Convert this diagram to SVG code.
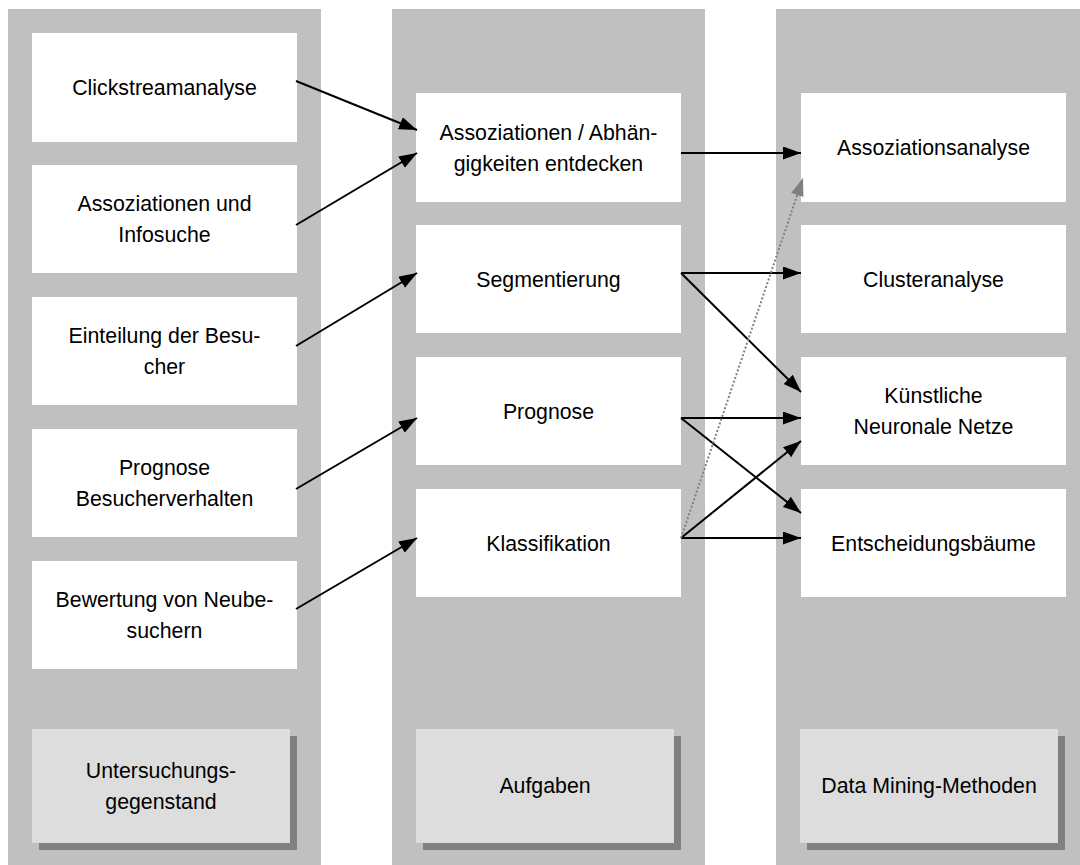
<svg xmlns="http://www.w3.org/2000/svg" width="1080" height="865" viewBox="0 0 1080 865">
<defs>
<style>
.col{fill:#c0c0c0}
.box{fill:#ffffff}
.lbl{fill:#dddddd}
.shd{fill:#808080}
text{font-family:"Liberation Sans",Arial,sans-serif;font-size:21.3px;fill:#000;text-anchor:middle}
.ar{stroke:#000;stroke-width:2;fill:none;marker-end:url(#ah)}
.dt{stroke:#808080;stroke-width:2;stroke-dasharray:2,2;fill:none;marker-end:url(#ahg)}
</style>
<marker id="ah" markerUnits="userSpaceOnUse" markerWidth="20" markerHeight="14" refX="18" refY="6.5" orient="auto"><path d="M0,0 L18,6.5 L0,13 z" fill="#000"/></marker>
<marker id="ahg" markerUnits="userSpaceOnUse" markerWidth="20" markerHeight="14" refX="18" refY="6.5" orient="auto"><path d="M0,0 L18,6.5 L0,13 z" fill="#808080"/></marker>
</defs>
<g id="columns">
<rect class="col" x="8" y="9" width="313" height="856"/>
<rect class="col" x="392" y="9" width="313" height="856"/>
<rect class="col" x="776" y="9" width="304" height="856"/>
</g>
<g id="n-clickstream"><rect class="box" x="32" y="33" width="265" height="109"/><text x="164.5" y="95">Clickstreamanalyse</text></g>
<g id="n-assoz-info"><rect class="box" x="32" y="165" width="265" height="108"/><text x="164.5" y="211">Assoziationen und</text><text x="164.5" y="242">Infosuche</text></g>
<g id="n-einteilung"><rect class="box" x="32" y="297" width="265" height="108"/><text x="164.5" y="343">Einteilung der Besu-</text><text x="164.5" y="374">cher</text></g>
<g id="n-prognose-bes"><rect class="box" x="32" y="429" width="265" height="108"/><text x="164.5" y="475">Prognose</text><text x="164.5" y="506">Besucherverhalten</text></g>
<g id="n-bewertung"><rect class="box" x="32" y="561" width="265" height="108"/><text x="164.5" y="607">Bewertung von Neube-</text><text x="164.5" y="638">suchern</text></g>
<g id="n-assoz-abh"><rect class="box" x="416" y="93" width="265" height="109"/><text x="548.5" y="140">Assoziationen / Abhän-</text><text x="548.5" y="171">gigkeiten entdecken</text></g>
<g id="n-segment"><rect class="box" x="416" y="225" width="265" height="108"/><text x="548.5" y="287">Segmentierung</text></g>
<g id="n-prognose"><rect class="box" x="416" y="357" width="265" height="108"/><text x="548.5" y="419">Prognose</text></g>
<g id="n-klass"><rect class="box" x="416" y="489" width="265" height="108"/><text x="548.5" y="551">Klassifikation</text></g>
<g id="n-assozanalyse"><rect class="box" x="801" y="93" width="265" height="109"/><text x="933.5" y="155">Assoziationsanalyse</text></g>
<g id="n-cluster"><rect class="box" x="801" y="225" width="265" height="108"/><text x="933.5" y="287">Clusteranalyse</text></g>
<g id="n-knn"><rect class="box" x="801" y="357" width="265" height="108"/><text x="933.5" y="403">Künstliche</text><text x="933.5" y="434">Neuronale Netze</text></g>
<g id="n-entsch"><rect class="box" x="801" y="489" width="265" height="108"/><text x="933.5" y="551">Entscheidungsbäume</text></g>
<g id="n-untersuchung"><rect class="shd" x="39" y="736" width="258" height="114"/><rect class="lbl" x="32" y="729" width="258" height="114"/><text x="161" y="778">Untersuchungs-</text><text x="161" y="809">gegenstand</text></g>
<g id="n-aufgaben"><rect class="shd" x="423" y="736" width="258" height="114"/><rect class="lbl" x="416" y="729" width="258" height="114"/><text x="545" y="793">Aufgaben</text></g>
<g id="n-methoden"><rect class="shd" x="807" y="736" width="258" height="114"/><rect class="lbl" x="800" y="729" width="258" height="114"/><text x="929" y="793">Data Mining-Methoden</text></g>
<g id="connectors">
<line class="ar" x1="296" y1="81" x2="417" y2="130"/>
<line class="ar" x1="296" y1="225" x2="417" y2="153"/>
<line class="ar" x1="296" y1="346" x2="417" y2="273"/>
<line class="ar" x1="296" y1="489" x2="417" y2="418"/>
<line class="ar" x1="296" y1="609" x2="417" y2="538"/>
<line class="ar" x1="681" y1="153" x2="801" y2="153"/>
<line class="ar" x1="681" y1="273" x2="801" y2="273"/>
<line class="ar" x1="681" y1="273" x2="801" y2="392"/>
<line class="ar" x1="681" y1="418" x2="801" y2="418"/>
<line class="ar" x1="681" y1="418" x2="801" y2="513"/>
<line class="ar" x1="681" y1="538" x2="801" y2="538"/>
<line class="ar" x1="681" y1="538" x2="801" y2="441"/>
<line class="dt" x1="681" y1="538" x2="803" y2="178"/>
</g>
</svg>
